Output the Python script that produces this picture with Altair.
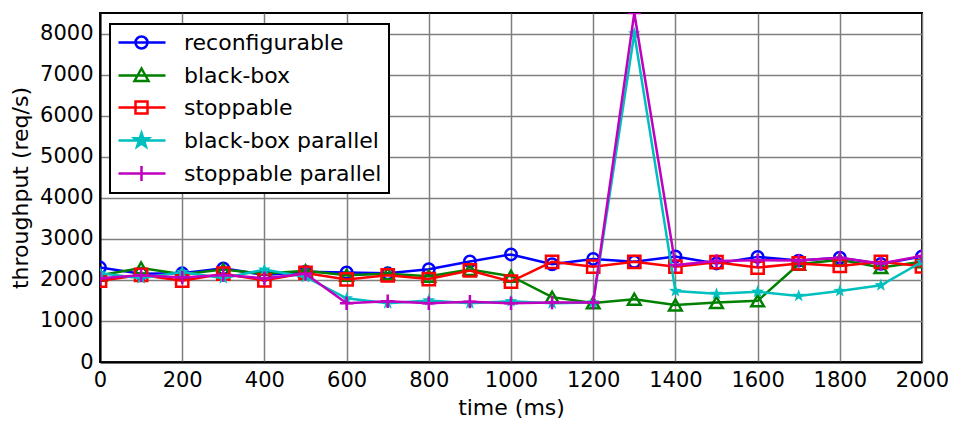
import math
import altair as alt
import pandas as pd

time_ms = list(range(0, 2001, 100))
series_names = ["reconfigurable", "black-box", "stoppable", "black-box parallel", "stoppable parallel"]
reconfigurable = [2300, 2150, 2160, 2280, 2120, 2200, 2180, 2160, 2260, 2450, 2620, 2380, 2510, 2440, 2570, 2400, 2560, 2470, 2540, 2390, 2570]
black_box = [2110, 2290, 2140, 2250, 2150, 2220, 2110, 2150, 2090, 2250, 2090, 1580, 1440, 1530, 1390, 1450, 1490, 2380, 2490, 2300, 2440]
stoppable = [1980, 2120, 1980, 2150, 1990, 2170, 2010, 2110, 2020, 2230, 1960, 2440, 2320, 2440, 2320, 2430, 2300, 2400, 2340, 2440, 2330]
black_box_parallel = [2160, 2040, 2190, 2040, 2250, 2070, 1550, 1430, 1500, 1430, 1480, 1430, 1450, 8000, 1730, 1660, 1710, 1610, 1730, 1870, 2440]
stoppable_parallel = [2040, 2110, 2060, 2120, 2040, 2150, 1430, 1480, 1430, 1470, 1430, 1450, 1450, 8500, 2360, 2460, 2480, 2470, 2540, 2400, 2580]

colors = ["#0000ff", "#008000", "#ff0000", "#00bfbf", "#bf00bf"]
all_values = [reconfigurable, black_box, stoppable, black_box_parallel, stoppable_parallel]

rows = []
for name, vals in zip(series_names, all_values):
    for t, v in zip(time_ms, vals):
        rows.append({"time": t, "value": v, "series": name})
df = pd.DataFrame(rows)

FONT = "DejaVu Sans"


def star_path(cx, R, r):
    pts = []
    for k in range(10):
        ang = math.radians(-90 + 36 * k)
        rad = R if k % 2 == 0 else r
        pts.append((cx + rad * math.cos(ang), rad * math.sin(ang)))
    return "M" + "L".join(f"{x:.3f},{y:.3f}" for x, y in pts) + "Z"


# plot markers
plus_path = "M-1,0H1M0,-1V1"
marker_specs = [
    dict(shape="circle", size=130, filled=False),
    dict(shape="triangle-up", size=160, filled=False),
    dict(shape="square", size=150, filled=False),
    dict(shape=star_path(0, 1.0, 0.4), size=180, filled=True),
    dict(shape=plus_path, size=180, filled=False),
]

# legend symbols: line + marker (unit = 10px)
cx = 1.3
line_seg = "M-1,0H3.7"


def circle_path(r):
    return f"M{cx-r},0A{r},{r} 0 1,1 {cx+r},0A{r},{r} 0 1,1 {cx-r},0"


legend_paths = [
    line_seg + circle_path(0.6),
    line_seg + f"M{cx},-0.7L{cx+0.7},0.55L{cx-0.7},0.55Z",
    line_seg + f"M{cx-0.6},-0.6H{cx+0.6}V0.6H{cx-0.6}Z",
    line_seg + star_path(cx, 0.75, 0.3),
    line_seg + f"M{cx-0.75},0H{cx+0.75}M{cx},-0.75V0.75",
]
legend_fills = ["transparent", "transparent", "transparent", colors[3], "transparent"]

x_enc = alt.X("time:Q", scale=alt.Scale(domain=[0, 2000], nice=False),
              axis=alt.Axis(values=list(range(0, 2001, 200)), title="time (ms)", format="d", labelFlush=False))
y_enc = alt.Y("value:Q", scale=alt.Scale(domain=[0, 8500], nice=False),
              axis=alt.Axis(values=list(range(0, 8001, 1000)), title="throughput (req/s)", format="d", labelFlush=False))

base = alt.Chart(df)
layers = []
for name, c, spec in zip(series_names, colors, marker_specs):
    sub = base.transform_filter(alt.datum.series == name)
    layers.append(sub.mark_line(color=c, strokeWidth=2.5, clip=True).encode(x=x_enc, y=y_enc))
    layers.append(sub.mark_point(color=c, strokeWidth=2.5, clip=True, opacity=1, **spec).encode(x=x_enc, y=y_enc))

leg = alt.Legend(title=None, orient="none", legendX=10, legendY=11)
legend_layer = base.transform_filter("false").mark_point(filled=False, strokeWidth=2.5, opacity=1).encode(
    x=x_enc, y=y_enc,
    stroke=alt.Stroke("series:N", scale=alt.Scale(domain=series_names, range=colors), legend=leg),
    shape=alt.Shape("series:N", scale=alt.Scale(domain=series_names, range=legend_paths), legend=leg),
    fill=alt.Fill("series:N", scale=alt.Scale(domain=series_names, range=legend_fills), legend=leg),
)
layers.append(legend_layer)

chart = alt.layer(*layers).properties(
    width=822, height=349,
    autosize=alt.AutoSizeParams(type="none"),
    padding={"left": 92, "top": 5, "right": 26, "bottom": 60},
).configure_view(
    stroke="black", strokeWidth=2
).configure_axis(
    labelFont=FONT, labelFontSize=21, labelColor="black",
    titleFont=FONT, titleFontSize=22, titleFontWeight="normal", titleColor="black",
    grid=True, gridColor="#7f7f7f", gridWidth=1.5,
    domain=True, domainColor="black", domainWidth=2,
    ticks=False, labelPadding=7,
).configure_axisY(
    titlePadding=7,
).configure_axisX(
    titlePadding=7,
).configure_legend(
    labelFont=FONT, labelFontSize=22, labelColor="black", labelOffset=44,
    strokeColor="black", strokeWidth=2, fillColor="white", padding=7, cornerRadius=0,
    rowPadding=9, symbolSize=400, symbolStrokeWidth=2.5, labelLimit=400,
)

chart.save("out.html", embed_options={"renderer": "svg", "actions": False})
